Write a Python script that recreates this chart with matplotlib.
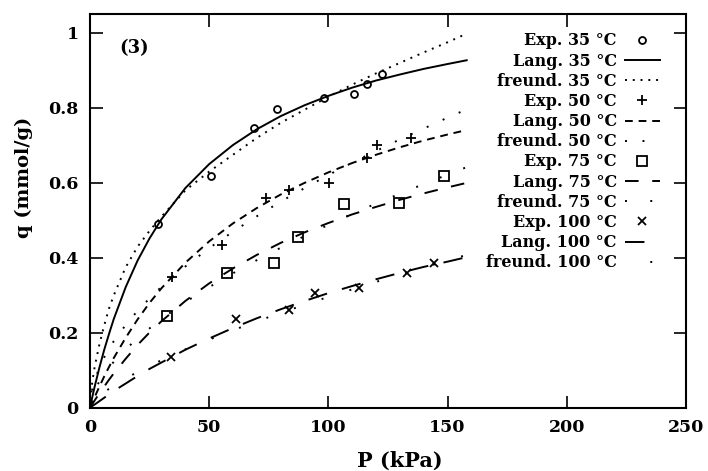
import numpy as np
import matplotlib
matplotlib.use('Agg')
import matplotlib.pyplot as plt

plt.rcParams['font.family'] = ['DejaVu Serif']
plt.rcParams['font.weight'] = 'bold'

p_35 = [28.6, 50.8, 68.7, 78.4, 98.3, 110.7, 116.3, 122.5]
q_35 = [0.491, 0.619, 0.747, 0.797, 0.827, 0.837, 0.863, 0.890]
p_50 = [34.3, 55.2, 73.7, 83.5, 100.3, 116.3, 120.3, 134.6]
q_50 = [0.350, 0.435, 0.559, 0.581, 0.599, 0.666, 0.701, 0.719]
p_75 = [32.4, 57.3, 77.3, 87.4, 106.7, 129.6, 148.6]
q_75 = [0.245, 0.361, 0.387, 0.457, 0.543, 0.547, 0.619]
p_100 = [33.9, 61.2, 83.5, 94.4, 113.0, 132.8, 144.3]
q_100 = [0.135, 0.237, 0.261, 0.306, 0.319, 0.361, 0.386]

# fitted curves, values
p_fit = [0, 1, 2, 4, 6, 8, 10, 15, 20, 25, 30, 40, 50, 60, 70, 80, 90,
         100, 110, 120, 130, 140, 150, 158]
lang_35 = [0, 0.029, 0.057, 0.108, 0.155, 0.197, 0.237, 0.322, 0.393, 0.452,
           0.503, 0.586, 0.650, 0.701, 0.743, 0.778, 0.807, 0.832, 0.854,
           0.873, 0.889, 0.904, 0.917, 0.927]
freund_35 = [0, 0.07, 0.11, 0.17, 0.22, 0.265, 0.30, 0.375, 0.43, 0.472,
             0.51, 0.58, 0.630, 0.675, 0.72, 0.76, 0.795, 0.83, 0.862,
             0.892, 0.92, 0.948, 0.975, 0.998]
lang_50 = [0, 0.015, 0.029, 0.057, 0.084, 0.109, 0.133, 0.187, 0.236, 0.280,
           0.319, 0.387, 0.444, 0.492, 0.533, 0.569, 0.600, 0.628, 0.653,
           0.675, 0.695, 0.713, 0.729, 0.741]
freund_50 = [0, 0.051, 0.074, 0.108, 0.135, 0.157, 0.178, 0.221, 0.259,
             0.292, 0.323, 0.377, 0.426, 0.470, 0.511, 0.550, 0.586, 0.621,
             0.654, 0.685, 0.716, 0.745, 0.774, 0.796]
lang_75 = [0, 0.010, 0.020, 0.039, 0.057, 0.075, 0.092, 0.131, 0.168, 0.201,
           0.231, 0.285, 0.332, 0.372, 0.408, 0.440, 0.468, 0.493, 0.516,
           0.536, 0.555, 0.572, 0.588, 0.600]
freund_75 = [0, 0.031, 0.047, 0.071, 0.090, 0.107, 0.123, 0.156, 0.186,
             0.212, 0.237, 0.282, 0.322, 0.359, 0.394, 0.427, 0.458, 0.488,
             0.517, 0.545, 0.571, 0.597, 0.622, 0.642]
lang_100 = [0, 0.005, 0.009, 0.018, 0.027, 0.036, 0.045, 0.065, 0.085, 0.104,
            0.121, 0.155, 0.185, 0.213, 0.239, 0.263, 0.285, 0.306, 0.325,
            0.343, 0.360, 0.376, 0.390, 0.402]
freund_100 = [0, 0.012, 0.019, 0.031, 0.041, 0.051, 0.059, 0.078, 0.096,
              0.112, 0.127, 0.156, 0.182, 0.207, 0.231, 0.253, 0.275, 0.296,
              0.316, 0.336, 0.356, 0.374, 0.393, 0.408]

fig = plt.figure(figsize=(7.08, 4.71), dpi=100)
ax = fig.add_axes([0.127, 0.134, 0.842, 0.836])

ax.plot(p_35, q_35, 'o', color='k', mfc='none', ms=5, mew=1.3, label='Exp. 35 °C')
ax.plot(p_fit, lang_35, '-', color='k', lw=1.4, label='Lang. 35 °C')
ax.plot(p_fit, freund_35, color='k', lw=1.4, ls=(0, (1, 3)), label='freund. 35 °C')
ax.plot(p_50, q_50, '+', color='k', ms=7, mew=1.3, label='Exp. 50 °C')
ax.plot(p_fit, lang_50, color='k', lw=1.4, ls=(0, (4, 3)), label='Lang. 50 °C')
ax.plot(p_fit, freund_50, color='k', lw=1.4, ls=(0, (1, 8)), label='freund. 50 °C')
ax.plot(p_75, q_75, 's', color='k', mfc='none', ms=6.5, mew=1.3, label='Exp. 75 °C')
ax.plot(p_fit, lang_75, color='k', lw=1.4, ls=(0, (7, 7)), label='Lang. 75 °C')
ax.plot(p_fit, freund_75, color='k', lw=1.4, ls=(0, (1, 12)), label='freund. 75 °C')
ax.plot(p_100, q_100, 'x', color='k', ms=6, mew=1.3, label='Exp. 100 °C')
ax.plot(p_fit, lang_100, color='k', lw=1.4, ls=(0, (10, 8)), label='Lang. 100 °C')
ax.plot(p_fit, freund_100, color='k', lw=1.4, ls=(2, (1, 14)), label='freund. 100 °C')

ax.set_xlim(0, 250)
ax.set_ylim(0, 1.05)
ax.set_xticks([0, 50, 100, 150, 200, 250])
ax.set_yticks([0, 0.2, 0.4, 0.6, 0.8, 1])
ax.set_yticklabels(['0', '0.2', '0.4', '0.6', '0.8', '1'])
ax.tick_params(direction='in', length=9, width=1.2, top=True, right=True,
               labelsize=12.5, pad=8)
for s in ax.spines.values():
    s.set_linewidth(1.5)

ax.set_xlabel('P (kPa)', fontsize=15, fontweight='bold')
ax.xaxis.set_label_coords(0.52, -0.11)
ax.set_ylabel('q (mmol/g)', fontsize=14, fontweight='bold')
ax.yaxis.set_label_coords(-0.095, 0.585)
ax.text(12.5, 0.96, '(3)', fontsize=13, fontweight='bold', va='center')

leg = ax.legend(loc='upper right', frameon=False, markerfirst=False,
                fontsize=11.5, handlelength=2.2, handletextpad=0.5,
                labelspacing=0.2, borderaxespad=0.0,
                bbox_to_anchor=(0.967, 0.97))
for t in leg.get_texts():
    t.set_ha('right')

fig.savefig('out.png', dpi=100)
